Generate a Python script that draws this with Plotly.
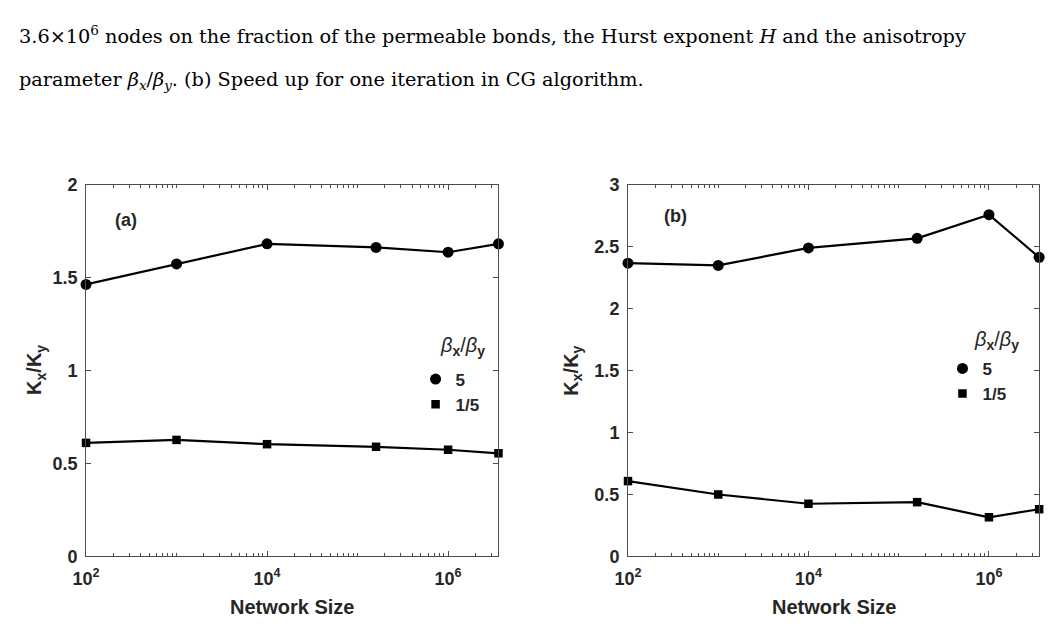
import numpy as np
import plotly.graph_objects as go

# network sizes (number of nodes) and anisotropy ratio Kx/Ky
network_size = [1e2, 1e3, 1e4, 1.6e5, 1e6, 3.6e6]
panel_a_beta5 = [1.464, 1.574, 1.682, 1.663, 1.637, 1.682]
panel_a_beta1_5 = [0.611, 0.627, 0.604, 0.590, 0.574, 0.555]
panel_b_beta5 = [2.367, 2.349, 2.490, 2.568, 2.759, 2.414]
panel_b_beta1_5 = [0.608, 0.500, 0.425, 0.438, 0.316, 0.381]

legend_names = ['5', '1/5']
legend_title = '<i>β</i><b><sub>x</sub></b>/<i>β</i><b><sub>y</sub></b>'
x_major = [1e2, 1e4, 1e6]
x_major_text = ['10<sup>2</sup>', '10<sup>4</sup>', '10<sup>6</sup>']
x_minor = [m * 10 ** k for k in range(2, 7) for m in range(1, 10)]
y_ranges = [[0, 2], [0, 3]]
y_ticks = [[0, 0.5, 1, 1.5, 2], [0, 0.5, 1, 1.5, 2, 2.5, 3]]

caption_1 = ('3.6×10<sup>6</sup> nodes on the fraction of the permeable bonds, '
             'the Hurst exponent <i>H</i> and the anisotropy')
caption_2 = ('parameter <i>β<sub>x</sub></i>/<i>β<sub>y</sub></i>. '
             '(b) Speed up for one iteration in CG algorithm.')

W, H = 1050, 631
TEXT = '#262626'
AXIS = '#4d4d4d'
SANS = 'Liberation Sans'


def px(v):
    return v / W


def py(v):
    return 1 - v / H


fig = go.Figure()

panels = [
    ('x', 'y', panel_a_beta5, panel_a_beta1_5, 'legend'),
    ('x2', 'y2', panel_b_beta5, panel_b_beta1_5, 'legend2'),
]
for xa, ya, s5, s15, leg in panels:
    for vals, sym, size in [(s5, 'circle', 11), (s15, 'square', 8.5)]:
        fig.add_trace(go.Scatter(
            x=network_size, y=vals, xaxis=xa, yaxis=ya,
            mode='lines+markers', cliponaxis=False, showlegend=False,
            line=dict(color='black', width=2.2),
            marker=dict(symbol=sym, size=size, color='black'),
        ))
    # marker-only legend entries
    for name, sym, size in [(legend_names[0], 'circle', 11), (legend_names[1], 'square', 8.5)]:
        fig.add_trace(go.Scatter(
            x=[None], y=[None], xaxis=xa, yaxis=ya, mode='markers', name=name,
            legend=leg, marker=dict(symbol=sym, size=size, color='black'),
        ))

axis_common = dict(
    showgrid=False, zeroline=False, showline=True, linecolor=AXIS, linewidth=1,
    mirror='ticks', ticks='inside', tickcolor=AXIS, ticklen=5,
    tickfont=dict(family=SANS, size=18, color=TEXT, weight='bold'),
)

x_domains = [[px(73), px(491)], [px(622.3), px(1039)]]
y_domain = [py(564.3), py(180.5)]

for i, (xd, yr, yt) in enumerate(zip(x_domains, y_ranges, y_ticks)):
    sfx = '' if i == 0 else str(i + 1)
    fig.update_layout(**{
        'xaxis' + sfx: dict(
            axis_common, type='log', domain=xd, anchor='y' + sfx,
            range=[2, np.log10(network_size[-1])],
            tickmode='array', tickvals=x_major, ticktext=x_major_text,
            ticklabelstandoff=6,
            minor=dict(ticks='inside', ticklen=3, tickcolor=AXIS,
                       tickmode='array', tickvals=x_minor, showgrid=False),
        ),
        'yaxis' + sfx: dict(
            axis_common, domain=y_domain, anchor='x' + sfx, range=yr,
            tickmode='array', tickvals=yt, ticklabelstandoff=4,
        ),
    })

legend_common = dict(
    bgcolor='rgba(0,0,0,0)', borderwidth=0, xanchor='left', yanchor='top',
    font=dict(family=SANS, size=17, color=TEXT, weight='bold'),
    tracegroupgap=0, itemwidth=30,
)
fig.update_layout(
    legend=dict(legend_common, x=px(407), y=py(363)),
    legend2=dict(legend_common, x=px(941), y=py(352)),
)

annotations = []
# caption lines from the paper text above the figure
for txt, yc in [(caption_1, 26), (caption_2, 72.5)]:
    annotations.append(dict(
        text=txt, x=px(3), y=py(yc), xref='paper', yref='paper',
        xanchor='left', yanchor='middle', showarrow=False,
        font=dict(family='DejaVu Serif', size=19.3, color='black'),
    ))

panel_labels = ['(a)', '(b)']
label_pos = [(114, 217), (670, 213)]
ylabel_x = [22, 566]
legend_title_pos = [(455, 347), (996, 341)]

for i, xd in enumerate(x_domains):
    xc = (xd[0] + xd[1]) / 2
    annotations.append(dict(
        text='Network Size', x=xc, y=py(617), xref='paper', yref='paper',
        xanchor='center', yanchor='middle', showarrow=False,
        font=dict(family=SANS, size=20, color=TEXT, weight='bold'),
    ))
    annotations.append(dict(
        text='K<sub>x</sub>/K<sub>y</sub>', x=px(ylabel_x[i]), y=py(372),
        xref='paper', yref='paper', textangle=-90,
        xanchor='center', yanchor='middle', showarrow=False,
        font=dict(family=SANS, size=20, color=TEXT, weight='bold'),
    ))
    annotations.append(dict(
        text=panel_labels[i], x=px(label_pos[i][0]), y=py(label_pos[i][1]),
        xref='paper', yref='paper', xanchor='center', yanchor='middle',
        showarrow=False, font=dict(family=SANS, size=18, color=TEXT, weight='bold'),
    ))
    annotations.append(dict(
        text=legend_title, x=px(legend_title_pos[i][0]), y=py(legend_title_pos[i][1]),
        xref='paper', yref='paper', xanchor='center', yanchor='middle',
        showarrow=False, font=dict(family=SANS, size=20, color=TEXT),
    ))

fig.update_layout(
    width=W, height=H, margin=dict(l=0, r=0, t=0, b=0),
    paper_bgcolor='white', plot_bgcolor='white',
    showlegend=True, annotations=annotations,
)

# drop the default page margin so the figure fills the window exactly
fig.write_html("out.html", config={'displayModeBar': False}, post_script=(
    "document.body.style.margin='0';"
    "document.body.style.overflow='hidden';"
))
